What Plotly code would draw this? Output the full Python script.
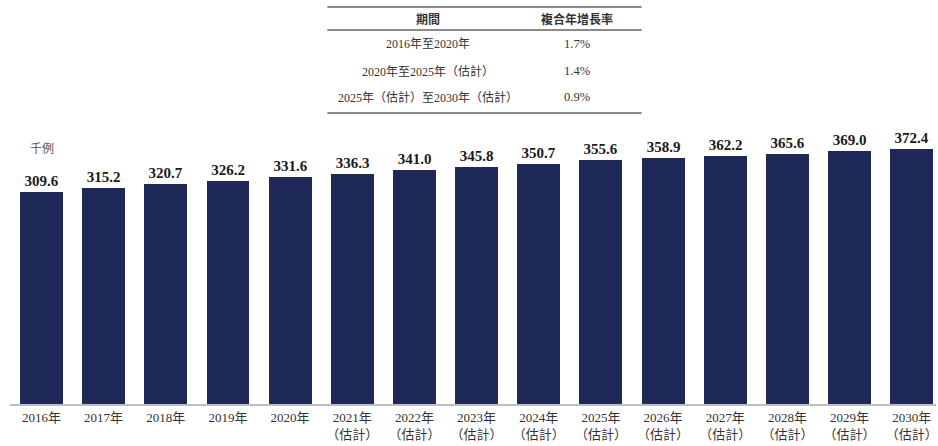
import plotly.graph_objects as go

# Annual cases (thousands), 2016-2030 (2021 onward estimated)
years = ["2016年", "2017年", "2018年", "2019年", "2020年", "2021年", "2022年", "2023年",
         "2024年", "2025年", "2026年", "2027年", "2028年", "2029年", "2030年"]
estimated = [False] * 5 + [True] * 10
values = [309.6, 315.2, 320.7, 326.2, 331.6, 336.3, 341.0, 345.8,
          350.7, 355.6, 358.9, 362.2, 365.6, 369.0, 372.4]

# CAGR summary table
cagr_periods = ["2016年至2020年", "2020年至2025年（估計）", "2025年（估計）至2030年（估計）"]
cagr_rates = ["1.7%", "1.4%", "0.9%"]
table_headers = ["期間", "複合年增長率"]
unit_label = "千例"

W, H = 938, 446
M_L, M_R, M_T, M_B = 10, 0, 130, 42
PLOT_H = H - M_T - M_B

SERIF = "Liberation Serif, Times New Roman, Noto Sans CJK TC, serif"
SANS = "Noto Sans CJK TC, Noto Sans, sans-serif"
BAR_COLOR = "#1e2859"

tick_text = [y + ("<br>（估計）" if e else "") for y, e in zip(years, estimated)]
xs = list(range(len(years)))

fig = go.Figure(go.Bar(
    x=xs, y=values, width=0.69,
    marker=dict(color=BAR_COLOR, line=dict(width=0)),
    text=[f"{v:.1f}" for v in values], textposition="outside",
    textfont=dict(family=SERIF, size=15, color="#1a1a1a", weight="bold"),
    cliponaxis=False, hoverinfo="skip",
))


def py(pixel_y):
    """Convert a page pixel row into paper y."""
    return (H - M_B - pixel_y) / PLOT_H


def px(pixel_x):
    return (pixel_x - M_L) / (W - M_L - M_R)


shapes = []
for yline in (7, 30, 113):
    shapes.append(dict(type="line", xref="paper", yref="paper",
                       x0=px(328), x1=px(643), y0=py(yline), y1=py(yline),
                       line=dict(color="#8a8a8a", width=2)))

annotations = []
col_x = [px(429), px(578)]
for cx, htxt in zip(col_x, table_headers):
    annotations.append(dict(x=cx, y=py(18), xref="paper", yref="paper", text=f"<b>{htxt}</b>",
                            showarrow=False, xanchor="center", yanchor="middle",
                            font=dict(family=SANS, size=12, color="#333")))
for ry, period, rate in zip((44, 71, 97), cagr_periods, cagr_rates):
    annotations.append(dict(x=col_x[0], y=py(ry), xref="paper", yref="paper", text=period,
                            showarrow=False, xanchor="center", yanchor="middle",
                            font=dict(family=SERIF, size=12, color="#333")))
    annotations.append(dict(x=col_x[1], y=py(ry), xref="paper", yref="paper", text=rate,
                            showarrow=False, xanchor="center", yanchor="middle",
                            font=dict(family=SERIF, size=12.5, color="#333")))
annotations.append(dict(x=px(28), y=py(147), xref="paper", yref="paper", text=unit_label,
                        showarrow=False, xanchor="left", yanchor="middle",
                        font=dict(family=SANS, size=12, color="#555")))

fig.update_layout(
    width=W, height=H,
    margin=dict(l=M_L, r=M_R, t=M_T, b=M_B),
    paper_bgcolor="white", plot_bgcolor="white",
    showlegend=False, bargap=0,
    xaxis=dict(range=[-0.506, 14.39], tickvals=xs, ticktext=tick_text,
               showgrid=False, zeroline=False, showline=True, linecolor="#bdbdbd", linewidth=2,
               ticks="", ticklabeloverflow="allow",
               tickfont=dict(family=SERIF, size=13, color="#333")),
    yaxis=dict(range=[0, 400], visible=False, showgrid=False, zeroline=False),
    shapes=shapes, annotations=annotations,
)

fig.write_html("out.html")
